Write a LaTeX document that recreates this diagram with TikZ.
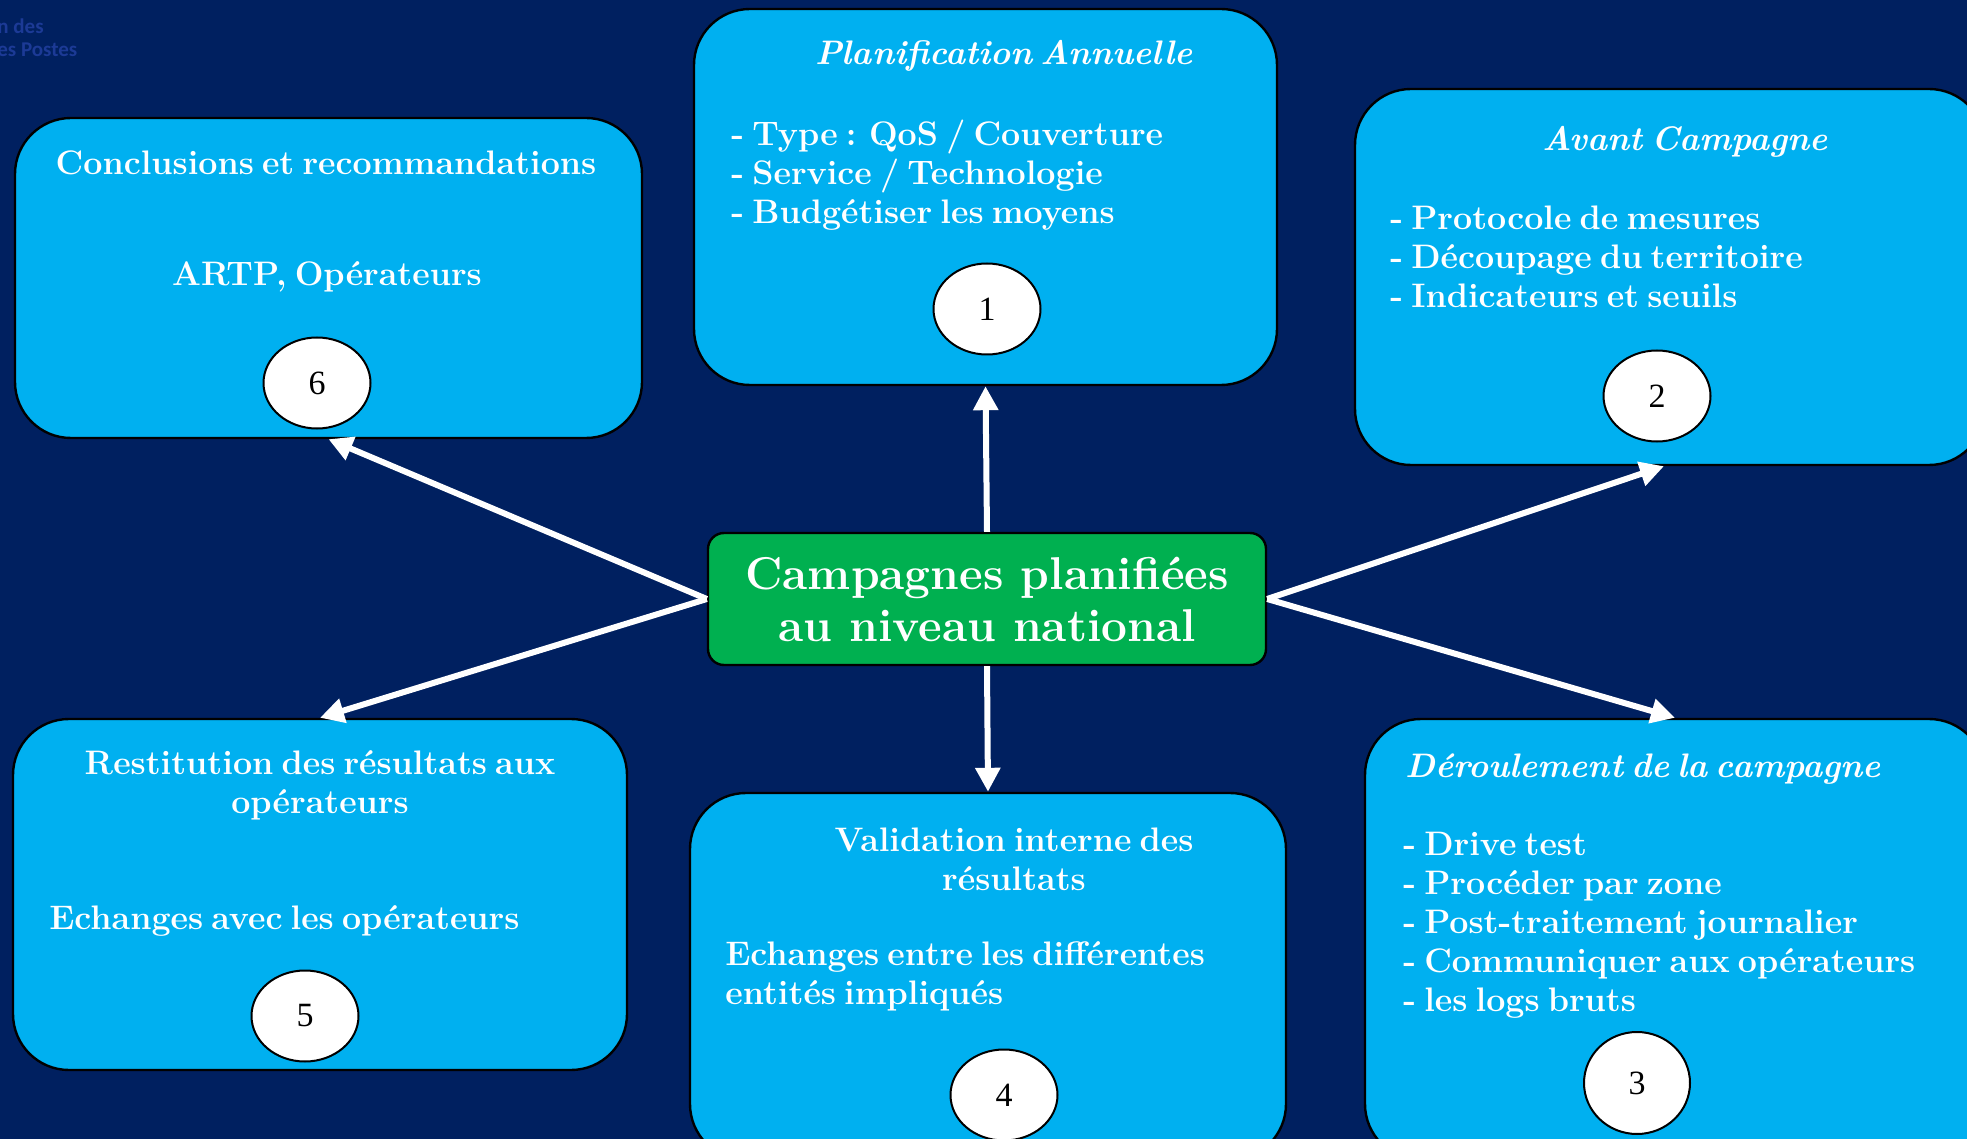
\documentclass[tikz,border=0pt]{standalone}
\usepackage{fontspec}
\usepackage{tikz}
\usetikzlibrary{shapes.geometric,arrows.meta}

\newfontfamily\numfont{Liberation Serif}
\newfontfamily\markfont{Carlito}
\definecolor{fond}{RGB}{0,32,96}
\definecolor{bleu}{RGB}{0,176,240}
\definecolor{vert}{RGB}{0,176,80}
\definecolor{filigrane}{RGB}{28,58,150}
\newcommand\corps{\bfseries\fontsize{17}{19.5}\selectfont\spaceskip=0.24em plus 0.1em minus 0.05em}

\begin{document}
\begin{tikzpicture}[x=0.5pt,y=-0.5pt,
    bloc/.style={draw=black,line width=1.2pt,fill=bleu,rounded corners=28pt,inner sep=0pt},
    txt/.style={text=white,font=\corps,inner sep=0pt},
    num/.style={ellipse,draw=black,line width=1pt,fill=white,inner sep=0pt,
      minimum width=53.5pt,minimum height=45.5pt,font=\numfont\fontsize{17}{17}\selectfont},
    fleche/.style={white,line width=3pt,-{Triangle[length=12pt,width=12pt]}}]
  \useasboundingbox (0,0) rectangle (1967,1139);
  \fill[fond] (0,0) rectangle (1967,1139);
  \clip (0,0) rectangle (1967,1139);

  \node[text=filigrane,font=\markfont\bfseries\fontsize{10.5}{12}\selectfont,anchor=west,inner sep=0pt] (fil1) at (-3,26) {n des};
  \node[text=filigrane,font=\markfont\bfseries\fontsize{10.5}{12}\selectfont,anchor=west,inner sep=0pt] (fil2) at (-3,50) {es Postes};

  % les six etapes
  \node[bloc,minimum width=291.5pt,minimum height=188pt] (plan) at (985.5,197) {};
  \node[bloc,minimum width=315pt,minimum height=188pt] (avant) at (1670,277) {};
  \node[bloc,minimum width=310pt,minimum height=220.5pt] (deroul) at (1675,939.5) {};
  \node[bloc,minimum width=298pt,minimum height=183.5pt] (valid) at (988,976.5) {};
  \node[bloc,minimum width=307pt,minimum height=175.5pt] (restit) at (320,894.5) {};
  \node[bloc,minimum width=313.5pt,minimum height=160pt] (concl) at (328.5,278) {};

  \node[draw=black,line width=1.2pt,fill=vert,rounded corners=8pt,minimum width=279pt,minimum height=66pt,
    text=white,align=center,font=\bfseries\fontsize{23}{26}\selectfont] (centre) at (987,599)
    {Campagnes planifiées\\au niveau national};

  % 1
  \node[txt,font=\corps\itshape] (t1) at (1004,56) {Planification Annuelle};
  \node[txt,align=left,anchor=north west] (l1) at (731,120)
    {- Type : QoS / Couverture\\- Service / Technologie\\- Budgétiser les moyens};
  \node[num] (n1) at (987,309) {1};

  % 2
  \node[txt,font=\corps\itshape] (t2) at (1685,142) {Avant Campagne};
  \node[txt,align=left,anchor=north west] (l2) at (1390,206)
    {- Protocole de mesures\\- Découpage du territoire\\- Indicateurs et seuils};
  \node[num] (n2) at (1657,396) {2};

  % 3
  \node[txt,font=\corps\itshape,anchor=west] (t3) at (1405,769) {Déroulement de la campagne};
  \node[txt,align=left,anchor=north west] (l3) at (1403,832)
    {- Drive test\\- Procéder par zone\\- Post-traitement journalier\\- Communiquer aux opérateurs\\- les logs bruts};
  \node[num,minimum width=53pt,minimum height=51pt] (n3) at (1637,1083) {3};

  % 4
  \node[txt,align=center] (t4) at (1014,859) {Validation interne des\\résultats};
  \node[txt,align=left,anchor=north west] (l4) at (725,941)
    {Echanges entre les différentes\\entités impliqués};
  \node[num] (n4) at (1004,1095) {4};

  % 5
  \node[txt,align=center] (t5) at (320,785) {Restitution des résultats aux\\opérateurs};
  \node[txt,anchor=west] (l5) at (49,921) {Echanges avec les opérateurs};
  \node[num] (n5) at (305,1016) {5};

  % 6
  \node[txt] (t6) at (326,163) {Conclusions et recommandations};
  \node[txt] (l6) at (327,277) {ARTP, Opérateurs};
  \node[num] (n6) at (317,383) {6};

  % fleches
  \draw[fleche] (centre.north) -- (plan.south);
  \draw[fleche] (centre.south) -- (valid.north);
  \draw[fleche] (centre.west) -- (concl.south);
  \draw[fleche] (centre.west) -- (restit.north);
  \draw[fleche] (centre.east) -- ([xshift=-3pt]avant.south);
  \draw[fleche] (centre.east) -- (deroul.north);
\end{tikzpicture}
\end{document}
